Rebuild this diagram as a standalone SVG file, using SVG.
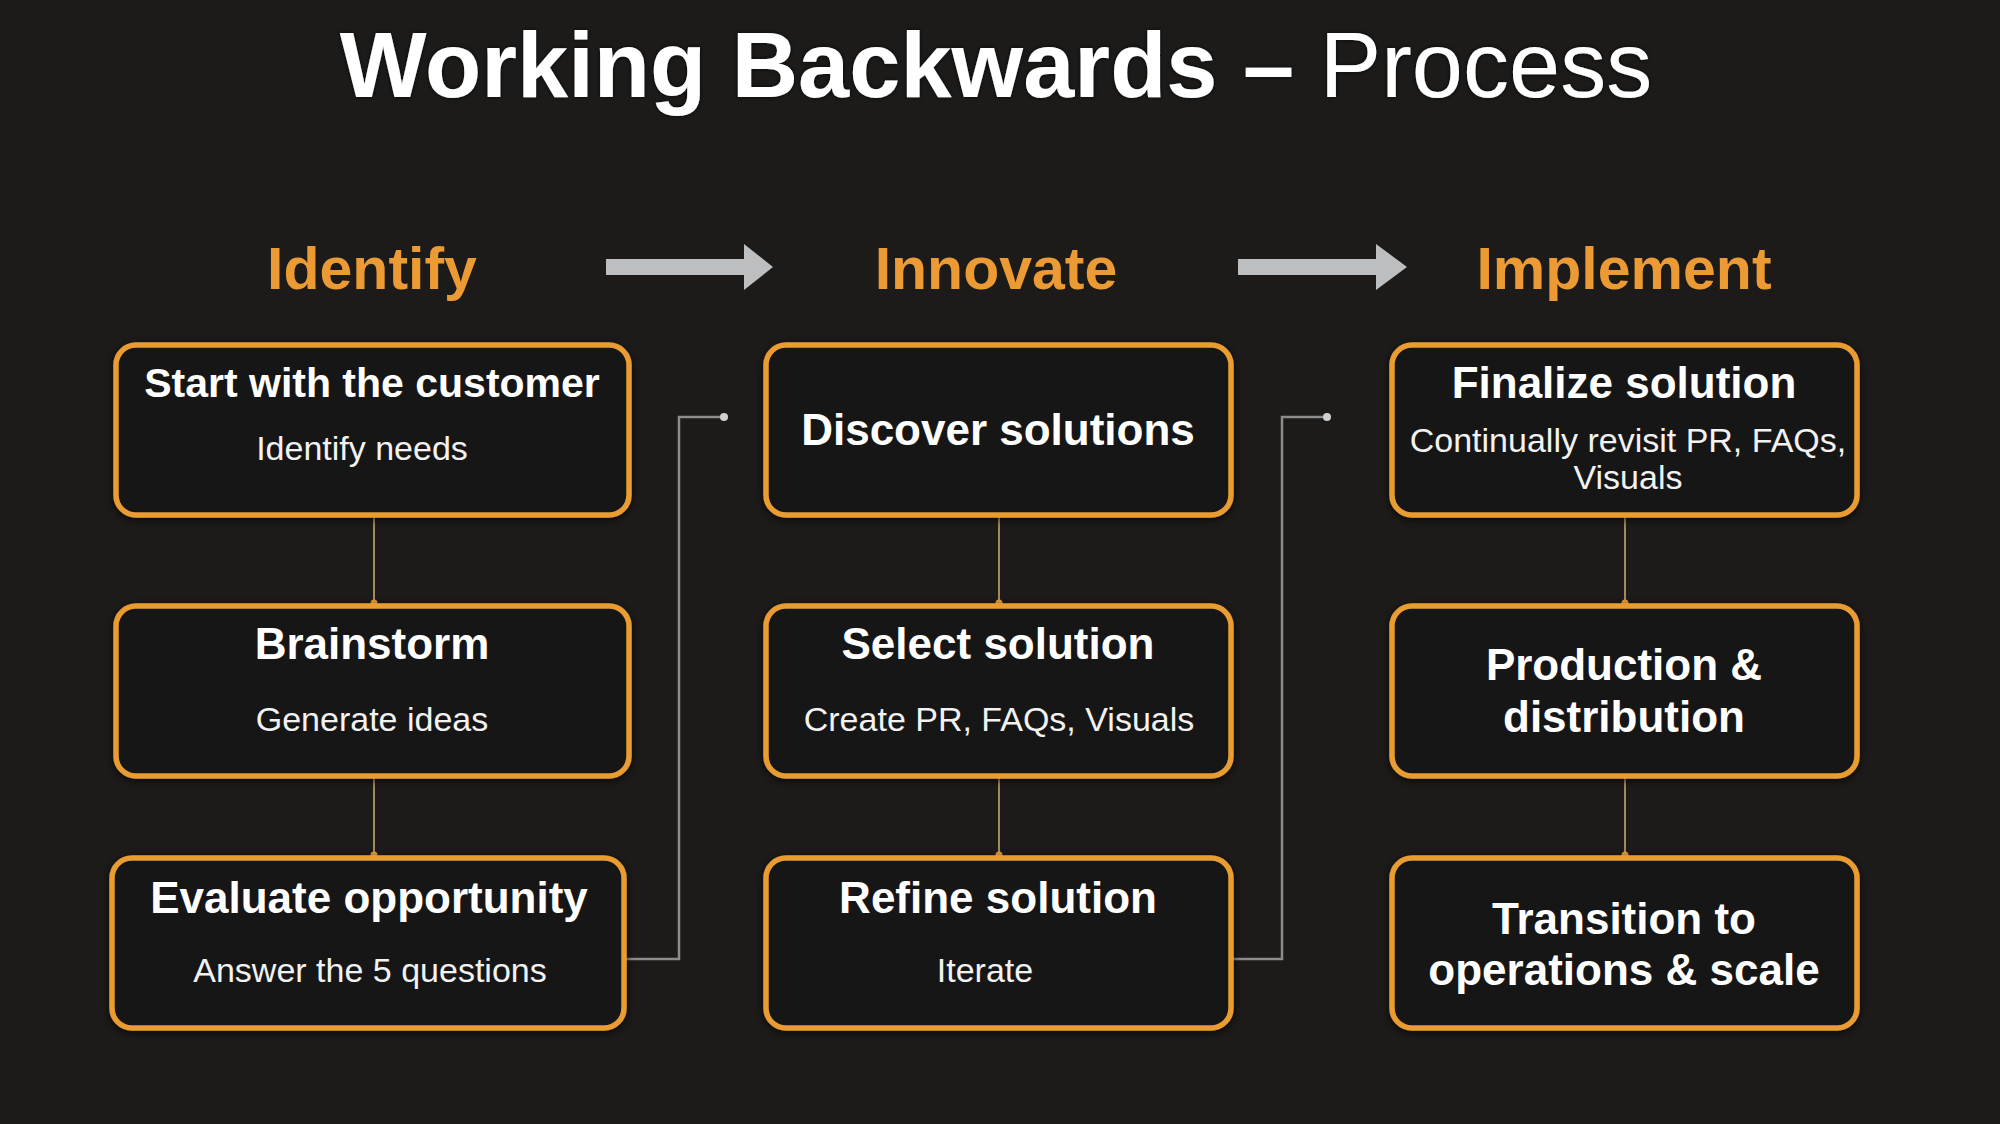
<svg xmlns="http://www.w3.org/2000/svg" width="2000" height="1124" viewBox="0 0 2000 1124">
  <defs>
    <style>
      .box { fill: #151413; stroke: #E89C33; stroke-width: 5.5; }
      .t { font-family: "Liberation Sans", Arial, sans-serif; font-weight: bold; font-size: 44px; fill: #FFFFFF; text-anchor: middle; }
      .t-sm { font-size: 41px; }
      .s { font-family: "Liberation Sans", Arial, sans-serif; font-size: 34px; fill: #F2F2F2; text-anchor: middle; }
      .phase { font-family: "Liberation Sans", Arial, sans-serif; font-weight: bold; font-size: 59px; fill: #EC9A33; text-anchor: middle; }
      .title { font-family: "Liberation Sans", Arial, sans-serif; font-size: 92px; fill: #FFFFFF; text-anchor: middle; }
      .vlink { stroke: #C9A66E; stroke-width: 1.6; fill: none; }
      .vdot { fill: #E8A43C; }
      .elbow { stroke: #8C8C8C; stroke-width: 2.5; fill: none; }
      .edot { fill: #D0D0D0; }
      .arrow { fill: #BDBEBF; }
    </style>
    <filter id="shadow" x="-10%" y="-10%" width="120%" height="120%">
      <feDropShadow dx="0" dy="2" stdDeviation="4" flood-color="#000000" flood-opacity="0.7"/>
    </filter>
    <filter id="glow" x="-10%" y="-20%" width="120%" height="140%">
      <feDropShadow dx="0" dy="0" stdDeviation="2" flood-color="#000000" flood-opacity="0.8"/>
    </filter>
  </defs>

  <rect x="0" y="0" width="2000" height="1124" fill="#1C1B1A"/>

  <!-- Title -->
  <g id="title" filter="url(#glow)">
    <text class="title" x="996" y="97"><tspan font-weight="bold">Working Backwards –</tspan> Process</text>
  </g>

  <!-- Phase headers -->
  <g id="phase-identify"><text class="phase" x="372" y="289">Identify</text></g>
  <g id="phase-innovate"><text class="phase" x="996" y="289">Innovate</text></g>
  <g id="phase-implement"><text class="phase" x="1624" y="289">Implement</text></g>

  <!-- Connectors -->
  <g id="connectors">
    <!-- phase arrows -->
    <polygon class="arrow" points="606,259 744,259 744,244 773,267 744,290 744,275 606,275"/>
    <polygon class="arrow" points="1238,259 1376,259 1376,244 1407,267 1376,290 1376,275 1238,275"/>

    <!-- vertical links column 1 -->
    <line class="vlink" x1="374" y1="515" x2="374" y2="604"/>
    <circle class="vdot" cx="374" cy="603" r="3.5"/>
    <line class="vlink" x1="374" y1="776" x2="374" y2="856"/>
    <circle class="vdot" cx="374" cy="855" r="3.5"/>
    <!-- column 2 -->
    <line class="vlink" x1="999" y1="515" x2="999" y2="604"/>
    <circle class="vdot" cx="999" cy="603" r="3.5"/>
    <line class="vlink" x1="999" y1="776" x2="999" y2="856"/>
    <circle class="vdot" cx="999" cy="855" r="3.5"/>
    <!-- column 3 -->
    <line class="vlink" x1="1625" y1="515" x2="1625" y2="604"/>
    <circle class="vdot" cx="1625" cy="603" r="3.5"/>
    <line class="vlink" x1="1625" y1="776" x2="1625" y2="856"/>
    <circle class="vdot" cx="1625" cy="855" r="3.5"/>

    <!-- elbow links between phases -->
    <polyline class="elbow" points="626,959 679,959 679,417 724,417"/>
    <circle class="edot" cx="724" cy="417" r="4"/>
    <polyline class="elbow" points="1233,959 1282,959 1282,417 1327,417"/>
    <circle class="edot" cx="1327" cy="417" r="4"/>
  </g>

  <!-- Column 1 -->
  <g id="start-with-customer">
    <rect class="box" x="116" y="345" width="513" height="170" rx="20" filter="url(#shadow)"/>
    <text class="t t-sm" x="372" y="397">Start with the customer</text>
    <text class="s" x="362" y="460">Identify needs</text>
  </g>
  <g id="brainstorm">
    <rect class="box" x="116" y="606" width="513" height="170" rx="20" filter="url(#shadow)"/>
    <text class="t" x="372" y="659">Brainstorm</text>
    <text class="s" x="372" y="731">Generate ideas</text>
  </g>
  <g id="evaluate-opportunity">
    <rect class="box" x="112" y="858" width="512" height="170" rx="20" filter="url(#shadow)"/>
    <text class="t" x="369" y="913">Evaluate opportunity</text>
    <text class="s" x="370" y="982">Answer the 5 questions</text>
  </g>

  <!-- Column 2 -->
  <g id="discover-solutions">
    <rect class="box" x="766" y="345" width="465" height="170" rx="20" filter="url(#shadow)"/>
    <text class="t" x="998" y="445">Discover solutions</text>
  </g>
  <g id="select-solution">
    <rect class="box" x="766" y="606" width="465" height="170" rx="20" filter="url(#shadow)"/>
    <text class="t" x="998" y="659">Select solution</text>
    <text class="s" x="999" y="731">Create PR, FAQs, Visuals</text>
  </g>
  <g id="refine-solution">
    <rect class="box" x="766" y="858" width="465" height="170" rx="20" filter="url(#shadow)"/>
    <text class="t" x="998" y="913">Refine solution</text>
    <text class="s" x="985" y="982">Iterate</text>
  </g>

  <!-- Column 3 -->
  <g id="finalize-solution">
    <rect class="box" x="1392" y="345" width="465" height="170" rx="20" filter="url(#shadow)"/>
    <text class="t" x="1624" y="398">Finalize solution</text>
    <text class="s" x="1628" y="452">Continually revisit PR, FAQs,</text>
    <text class="s" x="1628" y="489">Visuals</text>
  </g>
  <g id="production-distribution">
    <rect class="box" x="1392" y="606" width="465" height="170" rx="20" filter="url(#shadow)"/>
    <text class="t" x="1624" y="680">Production &amp;</text>
    <text class="t" x="1624" y="732">distribution</text>
  </g>
  <g id="transition-operations">
    <rect class="box" x="1392" y="858" width="465" height="170" rx="20" filter="url(#shadow)"/>
    <text class="t" x="1624" y="934">Transition to</text>
    <text class="t" x="1624" y="985">operations &amp; scale</text>
  </g>
</svg>
